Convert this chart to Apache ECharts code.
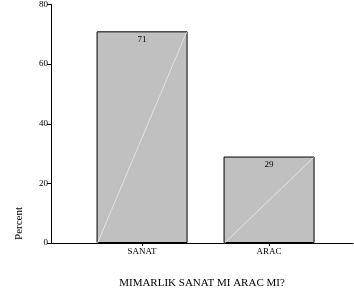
<!DOCTYPE html>
<html>
<head>
<meta charset="utf-8">
<script src="https://cdn.jsdelivr.net/npm/echarts@6/dist/echarts.min.js"></script>
<style>
    html, body { margin: 0; padding: 0; background: #fff; }
    #chart { width: 354px; height: 295px; }
</style>
</head>
<body>
<div id="chart"></div>
<script>
// data
const categories = ['SANAT', 'ARAC'];
const percents = [71, 29];
const yTicks = [0, 20, 40, 60, 80];

const chart = echarts.init(document.getElementById('chart'));

const barData = percents.map((v, i) => [i, v]);
const fontFam = '"Liberation Serif", "DejaVu Serif", serif';
const barW = 91;

const option = {
    animation: false,
    title: {
        text: 'MIMARLIK SANAT MI ARAC MI?',
        left: 197,
        top: 273,
        textAlign: 'center',
        textStyle: { fontFamily: fontFam, fontSize: 11, fontWeight: 'normal', color: '#000' }
    },
    grid: { left: 51, right: 1, top: 4, bottom: 52 },
    xAxis: {
        type: 'value',
        min: -0.717,
        max: 1.661,
        splitLine: { show: false },
        axisLine: { show: true, onZero: false, lineStyle: { color: '#000', width: 1 } },
        axisTick: { show: true, length: 3, customValues: [0, 1], lineStyle: { color: '#000' } },
        axisLabel: {
            customValues: [0, 1],
            formatter: v => categories[Math.round(v)] || '',
            fontFamily: fontFam,
            fontSize: 9,
            color: '#000',
            margin: 4
        }
    },
    yAxis: {
        type: 'value',
        min: yTicks[0],
        max: yTicks[yTicks.length - 1],
        interval: 20,
        splitLine: { show: false },
        axisLine: { show: true, onZero: false, lineStyle: { color: '#000', width: 1 } },
        axisTick: { show: true, length: 4, lineStyle: { color: '#000' } },
        axisLabel: { fontFamily: fontFam, fontSize: 9, color: '#000', margin: 3 }
    },
    graphic: [{
        type: 'text',
        left: 14,
        top: 207,
        rotation: Math.PI / 2,
        style: { text: 'Percent', font: '11px ' + fontFam, fill: '#000' }
    }],
    series: [
        {
            type: 'bar',
            data: barData,
            barWidth: barW,
            itemStyle: { color: '#c0c0c0', borderColor: '#000', borderWidth: 1 },
            label: {
                show: true,
                position: 'insideTop',
                distance: 4,
                fontFamily: fontFam,
                fontSize: 9,
                color: '#000',
                formatter: p => p.value[1]
            }
        },
        {
            type: 'custom',
            data: barData,
            z: 3,
            renderItem: function (params, api) {
                const base = api.coord([api.value(0), 0]);
                const top = api.coord([api.value(0), api.value(1)]);
                const h = barW / 2;
                return {
                    type: 'line',
                    shape: { x1: base[0] - h + 1, y1: base[1], x2: base[0] + h - 1, y2: top[1] + 1 },
                    style: { stroke: '#e2e2e2', lineWidth: 1 }
                };
            }
        }
    ]
};

chart.setOption(option);
</script>
</body>
</html>
